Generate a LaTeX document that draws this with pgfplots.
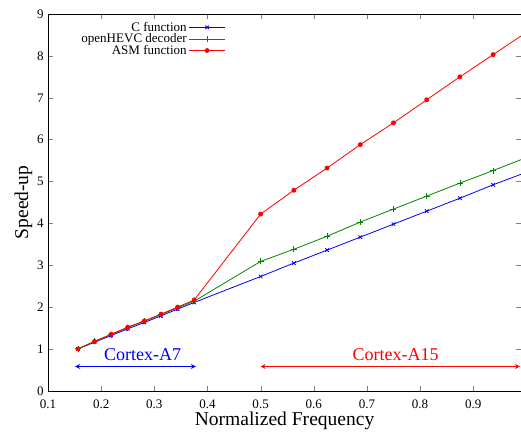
\documentclass[border=0pt]{standalone}
\usepackage{fontspec}
\setmainfont{Liberation Serif}
\usepackage{pgfplots}
\pgfplotsset{compat=1.18}
\definecolor{gpgreen}{RGB}{0,135,0}
\begin{document}
\begin{tikzpicture}
\begin{axis}[
  scale only axis, width=472pt, height=376pt,
  xmin=0.1, xmax=0.99, ymin=0, ymax=9,
  xtick={0.1,0.2,...,0.9}, ytick={0,1,...,9},
  xticklabels={0.1,0.2,0.3,0.4,0.5,0.6,0.7,0.8,0.9},
  tick align=inside, tick pos=both,
  major tick length=5pt,
  tick label style={font=\fontsize{13}{15}\selectfont},
  xticklabel style={yshift=-6pt},
  yticklabel style={xshift=-1pt},
  /pgf/number format/assume math mode=true,
  xlabel={Normalized Frequency}, ylabel={Speed-up},
  label style={font=\fontsize{19.5}{22}\selectfont},
  xlabel style={yshift=4pt}, ylabel style={yshift=-2pt},
  clip=true,
  legend plot pos=right,
  legend cell align=right,
  legend style={draw=none, fill=none, at={(0.382,0.99)}, anchor=north east,
    font=\fontsize{13}{14}\selectfont, row sep=-3pt},
  every axis plot post/.append style={
    legend image code/.code={\draw[mark repeat=2,mark phase=2] plot coordinates {(0pt,0pt) (18pt,0pt) (36pt,0pt)};}},
]
\addplot[blue, mark=x, mark size=2.5pt, line width=0.8pt] coordinates {
(0.15625,1.00) (0.1875,1.16) (0.21875,1.32) (0.25,1.48) (0.28125,1.63) (0.3125,1.79) (0.34375,1.95) (0.375,2.11)
(0.5,2.73) (0.5625,3.05) (0.625,3.36) (0.6875,3.67) (0.75,3.98) (0.8125,4.29) (0.875,4.60) (0.9375,4.92) (1.0,5.22)};
\addlegendentry{C function}
\addplot[gpgreen, mark=+, mark size=3pt, line width=0.8pt] coordinates {
(0.15625,1.00) (0.1875,1.18) (0.21875,1.34) (0.25,1.51) (0.28125,1.66) (0.3125,1.82) (0.34375,1.98) (0.375,2.14)
(0.5,3.09) (0.5625,3.38) (0.625,3.69) (0.6875,4.03) (0.75,4.34) (0.8125,4.65) (0.875,4.96) (0.9375,5.26) (1.0,5.57)};
\addlegendentry{openHEVC decoder}
\addplot[red, mark=*, mark size=2pt, line width=0.8pt] coordinates {
(0.15625,1.00) (0.1875,1.18) (0.21875,1.35) (0.25,1.52) (0.28125,1.67) (0.3125,1.83) (0.34375,2.00) (0.375,2.17)
(0.5,4.22) (0.5625,4.79) (0.625,5.32) (0.6875,5.88) (0.75,6.40) (0.8125,6.95) (0.875,7.50) (0.9375,8.03) (1.0,8.56)};
\addlegendentry{ASM function}
\draw[blue, line width=1.2pt, <->, >=stealth] (axis cs:0.151,0.58) -- (axis cs:0.378,0.58);
\node[blue, font=\fontsize{18}{20}\selectfont] at (axis cs:0.278,0.87) {Cortex-A7};
\draw[red, line width=1.2pt, <->, >=stealth] (axis cs:0.50,0.58) -- (axis cs:0.988,0.58);
\node[red, font=\fontsize{18}{20}\selectfont] at (axis cs:0.754,0.87) {Cortex-A15};
\coordinate (bl) at (rel axis cs:0,0);
\coordinate (tr) at (rel axis cs:1,1);
\end{axis}
\pgfresetboundingbox
\path[use as bounding box] ([xshift=-48pt,yshift=-45pt]bl) rectangle ([yshift=14pt]tr);
\end{tikzpicture}
\end{document}
